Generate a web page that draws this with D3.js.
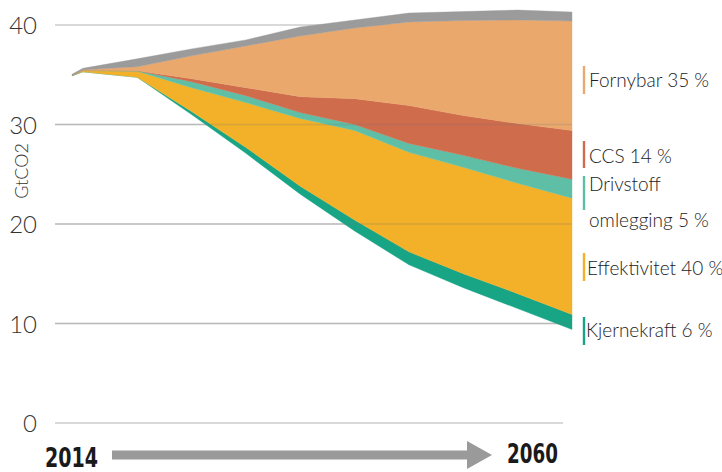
<!DOCTYPE html>
<html>
<head>
<meta charset="utf-8">
<script src="https://cdn.jsdelivr.net/npm/d3@7"></script>
<style>
  html, body { margin: 0; padding: 0; background: #fff; }
  svg { display: block; }
</style>
</head>
<body>
<svg id="chart" width="722" height="472"></svg>
<script>
// ---- data (GtCO2) ----
const years        = [2014, 2015, 2020, 2025, 2030, 2035, 2040, 2045, 2050, 2055, 2060];
const utslipp      = [34.9, 35.3, 34.75, 31.0, 27.1, 23.0, 19.3, 15.9, 13.6, 11.5, 9.4];
const kjernekraft  = [0, 0, 0, 0.3, 0.6, 0.8, 1.1, 1.3, 1.4, 1.5, 1.5];
const effektivitet = [0, 0.1, 0.6, 2.4, 4.5, 6.8, 9.0, 10.0, 10.7, 11.1, 11.7];
const drivstoff    = [0, 0.05, 0.05, 0.6, 0.7, 0.6, 0.6, 0.9, 1.2, 1.5, 1.9];
const ccs          = [0, 0, 0, 0.3, 0.8, 1.6, 2.6, 3.8, 4.0, 4.5, 4.9];
const fornybar     = [0, 0.05, 0.4, 2.3, 4.2, 6.1, 7.1, 8.4, 9.55, 10.4, 11.0];
const annet        = [0.15, 0.15, 0.8, 0.7, 0.6, 0.9, 0.8, 0.9, 0.9, 1.0, 0.9];
const yTicks       = [0, 10, 20, 30, 40];
const yLabel       = "GtCO2";
const startLabel   = "2014";
const endLabel     = "2060";
const legendItems  = [
  { key: "fornybar",     lines: ["Fornybar 35 %"] },
  { key: "ccs",          lines: ["CCS 14 %"] },
  { key: "drivstoff",    lines: ["Drivstoff", "omlegging 5 %"] },
  { key: "effektivitet", lines: ["Effektivitet 40 %"] },
  { key: "kjernekraft",  lines: ["Kjernekraft 6 %"] }
];

// ---- styles ----
const colors = {
  utslipp: "none",
  kjernekraft: "#17a585",
  effektivitet: "#f2b128",
  drivstoff: "#5fbfa6",
  ccs: "#cf6c4c",
  fornybar: "#eaa86d",
  annet: "#9b9b9b"
};
const keys = ["utslipp", "kjernekraft", "effektivitet", "drivstoff", "ccs", "fornybar", "annet"];
const series = { utslipp, kjernekraft, effektivitet, drivstoff, ccs, fornybar, annet };
const table = years.map((yr, i) => {
  const row = { year: yr };
  keys.forEach(k => row[k] = series[k][i]);
  return row;
});

const svg = d3.select("#chart");
const x = d3.scaleLinear().domain([2014, 2060]).range([72, 572]);
const y = d3.scaleLinear().domain([0, 40]).range([423, 25]);

const stacked = d3.stack().keys(keys)(table);
const area = d3.area()
  .x(d => x(d.data.year))
  .y0(d => y(d[0]))
  .y1(d => y(d[1]))
  .curve(d3.curveLinear);

// gridlines below
const gridG = svg.append("g");
gridG.selectAll("line").data(yTicks).join("line")
  .attr("x1", 55).attr("x2", d => d === 0 ? 563 : 572)
  .attr("y1", d => y(d)).attr("y2", d => y(d))
  .attr("stroke", "#cdcdcd").attr("stroke-width", 1.5);

// areas
svg.append("g").selectAll("path").data(stacked).join("path")
  .attr("d", area)
  .attr("fill", d => colors[d.key])
  .attr("stroke", d => d.key === "utslipp" ? "none" : colors[d.key])
  .attr("stroke-width", 0.4);

// faint gridlines over areas
svg.append("g").selectAll("line").data(yTicks.filter(d => d > 0 && d < 40)).join("line")
  .attr("x1", 55).attr("x2", 572)
  .attr("y1", d => y(d)).attr("y2", d => y(d))
  .attr("stroke", "rgba(120,120,120,0.22)").attr("stroke-width", 1.5);

// y tick labels
const axisG = svg.append("g").attr("transform", "translate(37,0)");
const yAxis = d3.axisLeft(y).tickValues(yTicks).tickSize(0).tickPadding(0);
axisG.call(yAxis);
axisG.select(".domain").remove();
axisG.selectAll("text")
  .attr("font-family", "Lato, 'Open Sans', sans-serif")
  .attr("font-size", 24)
  .attr("font-weight", 300)
  .attr("fill", "#333")
  .attr("dy", "0.36em");

// y label
svg.append("text")
  .attr("transform", "translate(28,171) rotate(-90)")
  .attr("text-anchor", "middle")
  .attr("font-family", "Lato, 'Open Sans', sans-serif")
  .attr("font-size", 18)
  .attr("font-weight", 300)
  .attr("fill", "#333")
  .text(yLabel);

// legend
const legendPos = {
  fornybar:     { y0: 66, y1: 94, base: [87], tx: 589 },
  ccs:          { y0: 141, y1: 168, base: [163], tx: 589 },
  drivstoff:    { y0: 176, y1: 210, base: [191, 227], tx: 589 },
  effektivitet: { y0: 253, y1: 281, base: [275], tx: 587 },
  kjernekraft:  { y0: 317, y1: 345, base: [337], tx: 586 }
};
const lg = svg.append("g");
legendItems.forEach(item => {
  const p = legendPos[item.key];
  lg.append("line")
    .attr("x1", 584).attr("x2", 584)
    .attr("y1", p.y0).attr("y2", p.y1)
    .attr("stroke", colors[item.key]).attr("stroke-width", 2.4);
  item.lines.forEach((t, i) => {
    lg.append("text")
      .attr("x", p.tx).attr("y", p.base[i])
      .attr("font-family", "Lato, 'Open Sans', sans-serif")
      .attr("font-size", 19)
      .attr("font-weight", 300)
      .attr("fill", "#222")
      .text(t);
  });
});

// time arrow
svg.append("rect")
  .attr("x", 112).attr("y", 450.5).attr("width", 356).attr("height", 9)
  .attr("fill", "#9a9a9a");
svg.append("path")
  .attr("d", "M467,441 L492,455 L467,469 Z")
  .attr("fill", "#9a9a9a");

svg.append("text")
  .attr("x", 45).attr("y", 467)
  .attr("font-family", "'Liberation Sans Narrow', 'DejaVu Sans Condensed', 'Liberation Sans', sans-serif")
  .attr("font-weight", 700)
  .attr("font-size", 27)
  .attr("fill", "#1a1a1a")
  .attr("textLength", 53).attr("lengthAdjust", "spacingAndGlyphs")
  .text(startLabel);
svg.append("text")
  .attr("x", 507).attr("y", 463)
  .attr("font-family", "'Liberation Sans Narrow', 'DejaVu Sans Condensed', 'Liberation Sans', sans-serif")
  .attr("font-weight", 700)
  .attr("font-size", 27)
  .attr("fill", "#1a1a1a")
  .attr("textLength", 51).attr("lengthAdjust", "spacingAndGlyphs")
  .text(endLabel);
</script>
</body>
</html>
